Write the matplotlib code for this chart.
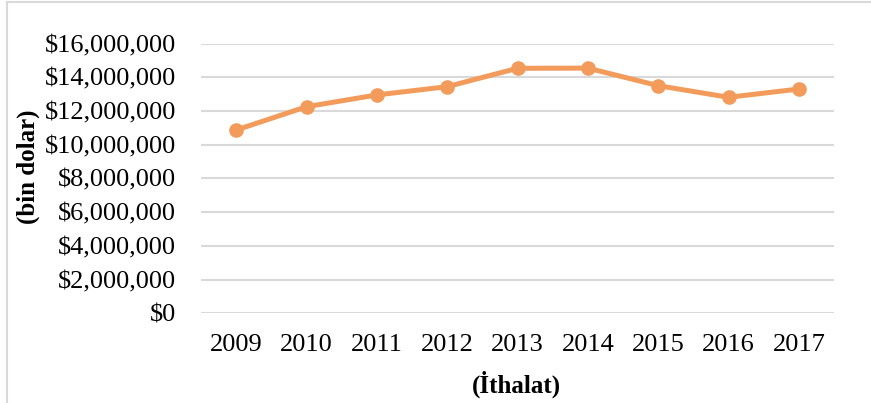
import matplotlib
matplotlib.use("Agg")
import matplotlib.pyplot as plt
from matplotlib.lines import Line2D
from matplotlib.ticker import FuncFormatter, MultipleLocator

plt.rcParams['font.family'] = ['Liberation Serif', 'DejaVu Serif']

years = ['2009', '2010', '2011', '2012', '2013', '2014', '2015', '2016', '2017']
imports = [10870000, 12250000, 12950000, 13440000, 14530000, 14540000, 13500000, 12810000, 13300000]

fig = plt.figure(figsize=(8.71, 4.03), dpi=100)
ax = fig.add_axes([201 / 871, 1 - 313.3 / 403, (834 - 201) / 871, (313.3 - 43.5) / 403])

xs = range(len(years))
ax.plot(xs, imports, color='#F29B5A', lw=3.6, marker='o', ms=9.5, solid_capstyle='round', zorder=3)

ax.set_xlim(-0.5, len(years) - 0.5)
ax.set_ylim(0, 16000000)
ax.yaxis.set_major_locator(MultipleLocator(2000000))
ax.yaxis.set_major_formatter(FuncFormatter(lambda v, p: f"${v:,.0f}"))
ax.set_xticks(list(xs))
ax.set_xticklabels(years)
ax.grid(axis='y', color='#D9D9D9', lw=1.5)
ax.set_axisbelow(True)
for s in ax.spines.values():
    s.set_visible(False)
ax.tick_params(axis='both', length=0, labelsize=19, colors='black')
ax.tick_params(axis='y', pad=18)
ax.tick_params(axis='x', pad=15)

fig.text(28 / 871, 1 - 167 / 403, '(bin dolar)', rotation=90, ha='center', va='center',
         fontsize=18, fontweight='bold')
fig.text(516 / 871, 1 - 384 / 403, '(İthalat)', ha='center', va='center',
         fontsize=18, fontweight='bold')

# frame of the chart box (cut at the right and bottom)
fig.add_artist(Line2D([7 / 871, 7 / 871], [0, 1 - 2 / 403], transform=fig.transFigure,
                      color='#D9D9D9', lw=1.5))
fig.add_artist(Line2D([7 / 871, 1], [1 - 2 / 403, 1 - 2 / 403], transform=fig.transFigure,
                      color='#D9D9D9', lw=1.5))

fig.savefig('out.png', dpi=100)
